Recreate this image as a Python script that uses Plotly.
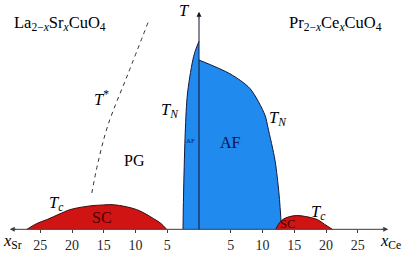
import plotly.graph_objects as go

# ---- data (x: doping in %, negative = Sr / hole side, positive = Ce / electron side; T arbitrary units)
af_la_x = [-2.52, -2.44, -2.2, -1.89, -1.45, -0.94, -0.5, 0.0]
af_la_T = [0, 33, 93, 133, 155, 173, 183, 191]

af_ce_x = [0.0, 4.88, 8.03, 10.39, 10.87, 11.97, 12.6, 13.0]
af_ce_T = [172, 158, 143, 116, 103, 70, 36, 0]

sc_la_x = [-27.1, -25.5, -23.9, -22.0, -20.3, -17.5, -15.0, -13.5, -11.5, -9.8, -8.5, -7.2, -6.0, -5.1]
sc_la_T = [0, 6, 10, 15.5, 20, 23.5, 24.8, 25, 23, 20, 16, 11, 6, 0]

sc_ce_x = [12.1, 12.5, 13.2, 14.2, 15.4, 16.8, 18.6, 19.8, 21.0]
sc_ce_T = [0, 5, 10, 12.8, 14, 13, 10, 5, 0]

tstar_x = [-8.03, -11.18, -14.33, -15.9, -17.0]
tstar_T = [210, 158, 106, 68, 33]

tick_vals = [-25, -20, -15, -10, -5, 5, 10, 15, 20, 25]
tick_text = ["25", "20", "15", "10", "5", "5", "10", "15", "20", "25"]

BLUE = "rgb(32,138,238)"
RED = "rgb(208,20,20)"
EDGE = "rgb(20,25,60)"
AXC = "rgb(60,60,60)"
FONT = "Liberation Serif"

fig = go.Figure()

fig.add_trace(go.Scatter(x=af_la_x, y=af_la_T, fill="tozeroy", fillcolor=BLUE, mode="lines",
                         line=dict(color=EDGE, width=1, shape="spline", smoothing=0.8), hoverinfo="skip"))
fig.add_trace(go.Scatter(x=af_ce_x, y=af_ce_T, fill="tozeroy", fillcolor=BLUE, mode="lines",
                         line=dict(color=EDGE, width=1, shape="spline", smoothing=0.8), hoverinfo="skip"))
fig.add_trace(go.Scatter(x=sc_la_x, y=sc_la_T, fill="tozeroy", fillcolor=RED, mode="lines",
                         line=dict(color="rgb(60,10,10)", width=1, shape="spline"), hoverinfo="skip"))
fig.add_trace(go.Scatter(x=sc_ce_x, y=sc_ce_T, fill="tozeroy", fillcolor=RED, mode="lines",
                         line=dict(color="rgb(60,10,10)", width=1, shape="spline"), hoverinfo="skip"))
fig.add_trace(go.Scatter(x=tstar_x, y=tstar_T, mode="lines",
                         line=dict(color="rgb(50,50,50)", width=1, dash="4px,4px", shape="spline"),
                         hoverinfo="skip"))

# axes lines
shapes = [
    dict(type="line", xref="x", yref="y", x0=-29.0, x1=29.0, y0=0, y1=0,
         line=dict(color=AXC, width=1), layer="above"),
    dict(type="line", xref="x", yref="y", x0=0, x1=0, y0=0, y1=215,
         line=dict(color="rgb(20,20,40)", width=1), layer="above"),
]

ann = []
# arrowheads
ann.append(dict(x=-29.8, y=0, ax=8, ay=0, xref="x", yref="y",
                showarrow=True, arrowhead=2, arrowsize=1, arrowwidth=1, arrowcolor=AXC, text=""))
ann.append(dict(x=29.8, y=0, ax=-8, ay=0, xref="x", yref="y",
                showarrow=True, arrowhead=2, arrowsize=1, arrowwidth=1, arrowcolor=AXC, text=""))
ann.append(dict(x=0, y=221, ax=0, ay=8, xref="x", yref="y",
                showarrow=True, arrowhead=2, arrowsize=1, arrowwidth=1, arrowcolor="rgb(20,20,40)", text=""))

def lab(x, y, t, size=13, color="black"):
    ann.append(dict(x=x, y=y, xref="x", yref="y", text=t, showarrow=False,
                    font=dict(family=FONT, size=size, color=color)))

lab(-21.9, 210, "La<sub>2−<i>x</i></sub>Sr<sub><i>x</i></sub>CuO<sub>4</sub>", 16.5)
lab(21.5, 210, "Pr<sub>2−<i>x</i></sub>Ce<sub><i>x</i></sub>CuO<sub>4</sub>", 16.5)
lab(-2.3, 222, "<i>T</i>", 16.5)
lab(-15.3, 133, "<i>T</i><sup>*</sup>", 16.5)
lab(-4.6, 121, "<i>T<sub>N</sub></i>", 16.5)
lab(12.4, 113, "<i>T<sub>N</sub></i>", 16.5)
lab(-10.1, 70, "PG", 16)
lab(-1.4, 90, "AF", 7, "rgb(10,30,110)")
lab(5.0, 88, "AF", 16, "rgb(10,20,70)")
lab(-22.5, 27, "<i>T<sub>c</sub></i>", 16.5)
lab(18.7, 18, "<i>T<sub>c</sub></i>", 16.5)
lab(-15.3, 12, "SC", 16, "rgb(70,0,0)")
lab(14.0, 5, "SC", 12.5, "rgb(70,0,0)")
lab(-29.4, -12, "<i>x</i><sub>Sr</sub>", 16.5)
lab(30.1, -12, "<i>x</i><sub>Ce</sub>", 16.5)

fig.update_layout(
    width=405, height=253, margin=dict(l=0, r=0, t=0, b=0),
    plot_bgcolor="white", paper_bgcolor="white", showlegend=False,
    annotations=ann, shapes=shapes,
    xaxis=dict(range=[-31.34, 32.44], tickvals=tick_vals, ticktext=tick_text,
               showgrid=False, zeroline=False, showline=False,
               ticks="outside", ticklen=3, tickcolor=AXC, tickwidth=1,
               anchor="free", position=20/253,
               tickfont=dict(family=FONT, size=14, color="rgb(40,40,40)")),
    yaxis=dict(range=[-20, 233], visible=False),
)

fig.write_html("out.html")
